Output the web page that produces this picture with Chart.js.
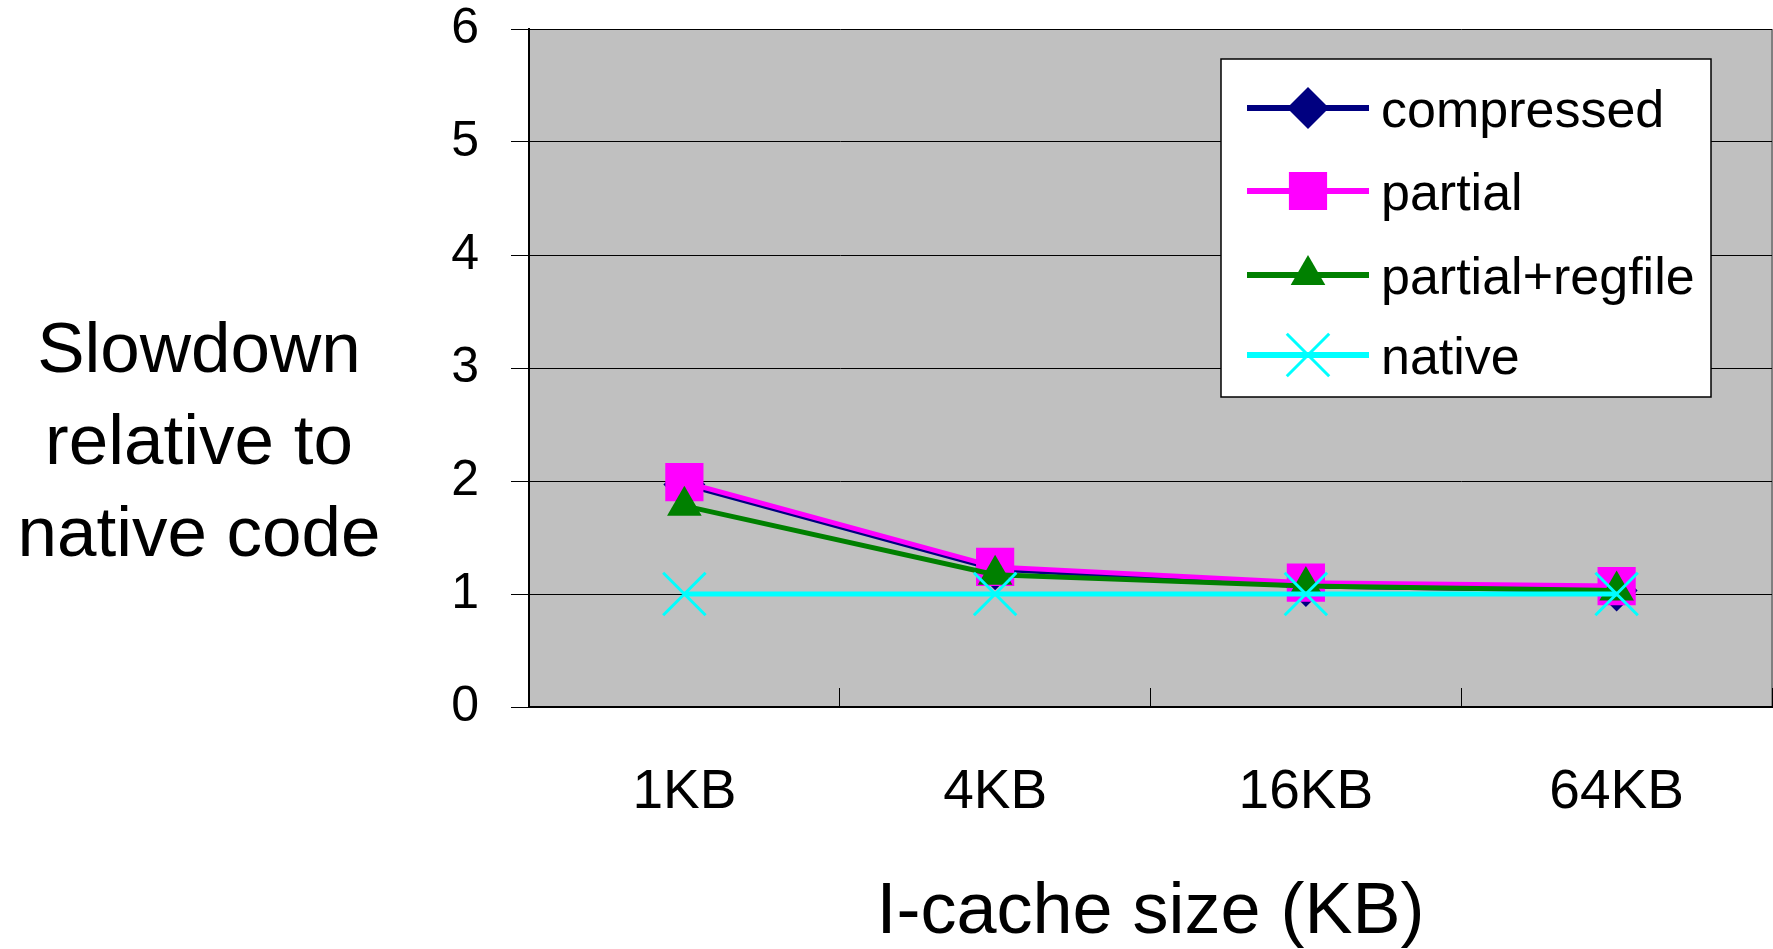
<!DOCTYPE html>
<html>
<head>
<meta charset="utf-8">
<script src="https://cdn.jsdelivr.net/npm/chart.js@4/dist/chart.umd.min.js"></script>
<style>
    html, body { margin: 0; padding: 0; background: #fff; }
    #wrap { width: 1773px; height: 949px; }
</style>
</head>
<body>
<div id="wrap"><canvas id="slowdownChart" width="1773" height="949"></canvas></div>
<script>
const cacheSizes = ['1KB', '4KB', '16KB', '64KB'];
const compressed = [1.97, 1.22, 1.07, 1.03];
const partial = [1.99, 1.24, 1.10, 1.07];
const partialRegfile = [1.78, 1.17, 1.07, 1.03];
const native = [1, 1, 1, 1];
const yTicks = [0, 1, 2, 3, 4, 5, 6];

const seriesNames = ['compressed', 'partial', 'partial+regfile', 'native'];
const fontFamily = '"Liberation Sans", Arial, sans-serif';

// marker looks
const styles = [
    {color: '#000080', pointStyle: 'rectRot', radius: 21, pointBorder: 0},
    {color: '#FF00FF', pointStyle: 'rect', radius: 27, pointBorder: 0},
    {color: '#008000', pointStyle: 'triangle', radius: 20, pointBorder: 0},
    {color: '#00FFFF', pointStyle: 'crossRot', radius: 30, pointBorder: 3}
];

function makeDataset(i, values) {
    const s = styles[i];
    return {
        label: seriesNames[i],
        data: values,
        borderColor: s.color,
        backgroundColor: s.color,
        borderWidth: 5,
        tension: 0,
        pointStyle: s.pointStyle,
        pointRadius: s.radius,
        pointHoverRadius: s.radius,
        pointBackgroundColor: s.color,
        pointBorderColor: s.color,
        pointBorderWidth: s.pointBorder,
        order: 3 - i,
        clip: false
    };
}

const plotBackground = {
    id: 'plotBackground',
    beforeDraw(chart) {
        const ctx = chart.ctx, a = chart.chartArea;
        ctx.save();
        ctx.fillStyle = '#C0C0C0';
        ctx.fillRect(a.left, a.top, a.right - a.left, a.bottom - a.top);
        ctx.strokeStyle = '#808080';
        ctx.lineWidth = 2;
        ctx.beginPath();
        ctx.moveTo(a.right, a.top);
        ctx.lineTo(a.right, a.bottom);
        ctx.stroke();
        ctx.restore();
    }
};

const sideTitle = {
    id: 'sideTitle',
    afterDraw(chart) {
        const ctx = chart.ctx;
        const lines = ['Slowdown', 'relative to', 'native code'];
        ctx.save();
        ctx.fillStyle = '#000';
        ctx.font = '71px ' + fontFamily;
        ctx.textAlign = 'center';
        ctx.textBaseline = 'middle';
        lines.forEach((t, k) => ctx.fillText(t, 199, 352 + k * 92));
        ctx.restore();
    }
};

const boxLegend = {
    id: 'boxLegend',
    afterDraw(chart) {
        const ctx = chart.ctx;
        ctx.save();
        ctx.fillStyle = '#fff';
        ctx.fillRect(1221, 59, 490, 338);
        ctx.strokeStyle = '#000';
        ctx.lineWidth = 1.5;
        ctx.strokeRect(1221, 59, 490, 338);
        const rowsY = [108, 191, 275, 355];
        seriesNames.forEach((name, i) => {
            const s = styles[i], y = rowsY[i];
            ctx.strokeStyle = s.color;
            ctx.fillStyle = s.color;
            ctx.lineWidth = 6;
            ctx.beginPath();
            ctx.moveTo(1247, y);
            ctx.lineTo(1369, y);
            ctx.stroke();
            ctx.lineWidth = s.pointBorder;
            Chart.helpers.drawPoint(ctx, {
                pointStyle: s.pointStyle,
                radius: s.radius,
                borderWidth: s.pointBorder,
                rotation: 0
            }, 1308, y);
            ctx.fillStyle = '#000';
            ctx.font = '52px ' + fontFamily;
            ctx.textAlign = 'left';
            ctx.textBaseline = 'alphabetic';
            ctx.fillText(name, 1381, y + 19);
        });
        ctx.restore();
    }
};

new Chart(document.getElementById('slowdownChart'), {
    type: 'line',
    data: {
        labels: cacheSizes,
        datasets: [
            makeDataset(0, compressed),
            makeDataset(1, partial),
            makeDataset(2, partialRegfile),
            makeDataset(3, native)
        ]
    },
    options: {
        responsive: false,
        animation: false,
        events: [],
        layout: {autoPadding: false, padding: {top: 29, right: 1, left: 0, bottom: 0}},
        plugins: {
            legend: {display: false},
            tooltip: {enabled: false}
        },
        scales: {
            x: {
                type: 'category',
                offset: true,
                afterFit: (s) => { s.height = 242; s.paddingLeft = 0; s.paddingRight = 0; },
                grid: {
                    offset: true,
                    drawOnChartArea: false,
                    drawTicks: true,
                    tickLength: -19,
                    color: '#000',
                    lineWidth: 1
                },
                border: {display: true, color: '#000', width: 2},
                ticks: {
                    color: '#000',
                    font: {family: fontFamily, size: 55},
                    padding: 72,
                    maxRotation: 0
                },
                title: {
                    display: true,
                    text: 'I-cache size (KB)',
                    color: '#000',
                    font: {family: fontFamily, size: 72, lineHeight: 1},
                    padding: {top: 0, bottom: 0}
                }
            },
            y: {
                min: 0,
                max: 6,
                afterFit: (s) => { s.width = 529; s.paddingTop = 0; s.paddingBottom = 0; },
                afterBuildTicks: (s) => { s.ticks = yTicks.map(v => ({value: v})); },
                grid: {
                    color: '#000',
                    lineWidth: 1,
                    drawTicks: true,
                    tickLength: 18
                },
                border: {display: true, color: '#000', width: 2},
                ticks: {
                    color: '#000',
                    font: {family: fontFamily, size: 50},
                    padding: 32
                }
            }
        }
    },
    plugins: [plotBackground, sideTitle, boxLegend]
});
</script>
</body>
</html>
